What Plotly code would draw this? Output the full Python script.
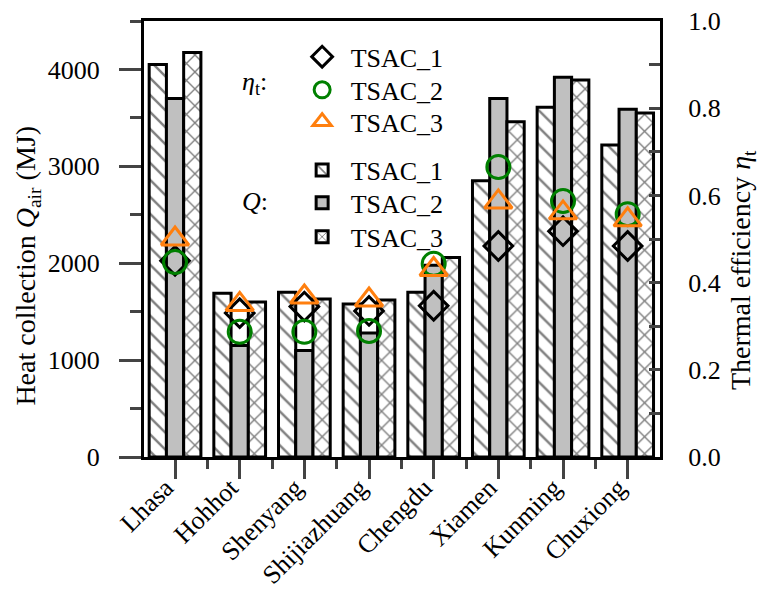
import plotly.graph_objects as go

# Cities (x categories)
cities = ["Lhasa", "Hohhot", "Shenyang", "Shijiazhuang", "Chengdu", "Xiamen", "Kunming", "Chuxiong"]

# Heat collection Q_air (MJ) for each collector
q_tsac1 = [4050, 1690, 1700, 1580, 1700, 2850, 3610, 3220]
q_tsac2 = [3700, 1150, 1100, 1280, 1980, 3700, 3920, 3590]
q_tsac3 = [4175, 1600, 1630, 1620, 2060, 3460, 3890, 3550]

# Thermal efficiency eta_t for each collector
eta_tsac1 = [0.45, 0.33, 0.345, 0.335, 0.347, 0.484, 0.518, 0.484]
eta_tsac2 = [0.447, 0.287, 0.287, 0.289, 0.443, 0.665, 0.587, 0.557]
eta_tsac3 = [0.50, 0.35, 0.367, 0.36, 0.43, 0.585, 0.56, 0.544]

# Axis ticks
q_ticks = [0, 1000, 2000, 3000, 4000]
eta_ticks = [0.0, 0.2, 0.4, 0.6, 0.8, 1.0]

FONT = "Liberation Serif"
pos = list(range(len(cities)))
# small trailing pad keeps the rotated labels tucked under their ticks
tick_text = [c + "\u00a0\u00a0" for c in cities]

fig = go.Figure()

bar_line = dict(color="black", width=3)
fig.add_trace(go.Bar(
    x=pos, y=q_tsac1, name="TSAC_1", legend="legend4",
    marker=dict(color="white", line=bar_line,
                pattern=dict(shape="\\", fgcolor="black", bgcolor="white", size=12, solidity=0.2)),
))
fig.add_trace(go.Bar(
    x=pos, y=q_tsac2, name="TSAC_2", legend="legend5",
    marker=dict(color="#c0c0c0", line=bar_line),
))
fig.add_trace(go.Bar(
    x=pos, y=q_tsac3, name="TSAC_3", legend="legend6",
    marker=dict(color="white", line=bar_line,
                pattern=dict(shape="x", fgcolor="black", bgcolor="white", size=12, solidity=0.22)),
))

fig.add_trace(go.Scatter(
    x=pos, y=eta_tsac1, name="TSAC_1", mode="markers", yaxis="y2", legend="legend",
    marker=dict(symbol="diamond-open", size=22, color="black", line=dict(width=3)),
))
fig.add_trace(go.Scatter(
    x=pos, y=eta_tsac2, name="TSAC_2", mode="markers", yaxis="y2", legend="legend2",
    marker=dict(symbol="circle-open", size=23, color="#008000", line=dict(width=3)),
))
fig.add_trace(go.Scatter(
    x=pos, y=eta_tsac3, name="TSAC_3", mode="markers", yaxis="y2", legend="legend3",
    marker=dict(symbol="triangle-up-open", size=24, color="#ff7f0e", line=dict(width=3)),
))

legend_common = dict(
    font=dict(family=FONT, size=26, color="black"),
    bgcolor="rgba(0,0,0,0)", itemsizing="trace", itemwidth=47,
    xanchor="left", yanchor="middle", x=0.29,
)
# one legend per row: eta_t keys on top, Q keys below
legend_rows = [0.918, 0.842, 0.769, 0.658, 0.583, 0.505]

fig.update_layout(
    width=761, height=592,
    margin=dict(l=144, r=101, t=21, b=135),
    paper_bgcolor="white", plot_bgcolor="white",
    font=dict(family=FONT, size=26, color="black"),
    showlegend=True,
    barmode="group", bargap=0.2, bargroupgap=0,
    legend=dict(y=legend_rows[0], **legend_common),
    legend2=dict(y=legend_rows[1], **legend_common),
    legend3=dict(y=legend_rows[2], **legend_common),
    legend4=dict(y=legend_rows[3], **legend_common),
    legend5=dict(y=legend_rows[4], **legend_common),
    legend6=dict(y=legend_rows[5], **legend_common),
    xaxis=dict(
        range=[-0.48, 7.5], tickmode="array", tickvals=pos, ticktext=tick_text,
        tickangle=-45, ticks="outside", ticklen=19, tickwidth=3, ticklabelstandoff=-26,
        showline=True, linewidth=3, linecolor="black", mirror=True,
        showgrid=False, zeroline=False, automargin=False,
        minor=dict(tickmode="array", tickvals=[p + 0.5 for p in pos[:-1]],
                   ticks="outside", ticklen=9, tickwidth=3),
    ),
    yaxis=dict(
        range=[0, 4500], tickmode="array", tickvals=q_ticks,
        ticks="outside", ticklen=22, tickwidth=3, ticklabelstandoff=14,
        showline=True, linewidth=3, linecolor="black",
        showgrid=False, zeroline=False, automargin=False,
        minor=dict(dtick=500, ticks="outside", ticklen=11, tickwidth=3),
    ),
    yaxis2=dict(
        overlaying="y", side="right", anchor="x",
        range=[0, 1], tickmode="array", tickvals=eta_ticks, tickformat=".1f",
        ticks="inside", ticklen=11, tickwidth=3, ticklabelstandoff=20,
        showline=True, linewidth=3, linecolor="black",
        showgrid=False, zeroline=False, automargin=False,
        minor=dict(dtick=0.1, ticks="inside", ticklen=11, tickwidth=3),
    ),
    annotations=[
        # axis titles
        dict(text="Heat collection <i>Q</i><sub>air</sub> (MJ)", textangle=-90,
             xref="paper", yref="paper", x=-0.2248, y=0.439,
             xanchor="center", yanchor="middle",
             showarrow=False, font=dict(family=FONT, size=28)),
        dict(text="Thermal efficiency <i>η</i><sub>t</sub>", textangle=-90,
             xref="paper", yref="paper", x=1.161, y=0.429,
             xanchor="center", yanchor="middle",
             showarrow=False, font=dict(family=FONT, size=28)),
        # legend group labels
        dict(text="<i>η</i><sub>t</sub>:", xref="paper", yref="paper", x=0.187, y=0.90,
             showarrow=False, font=dict(family=FONT, size=26)),
        dict(text="<i>Q</i>:", xref="paper", yref="paper", x=0.187, y=0.585,
             showarrow=False, font=dict(family=FONT, size=26)),
    ],
)

fig.write_html("out.html")
